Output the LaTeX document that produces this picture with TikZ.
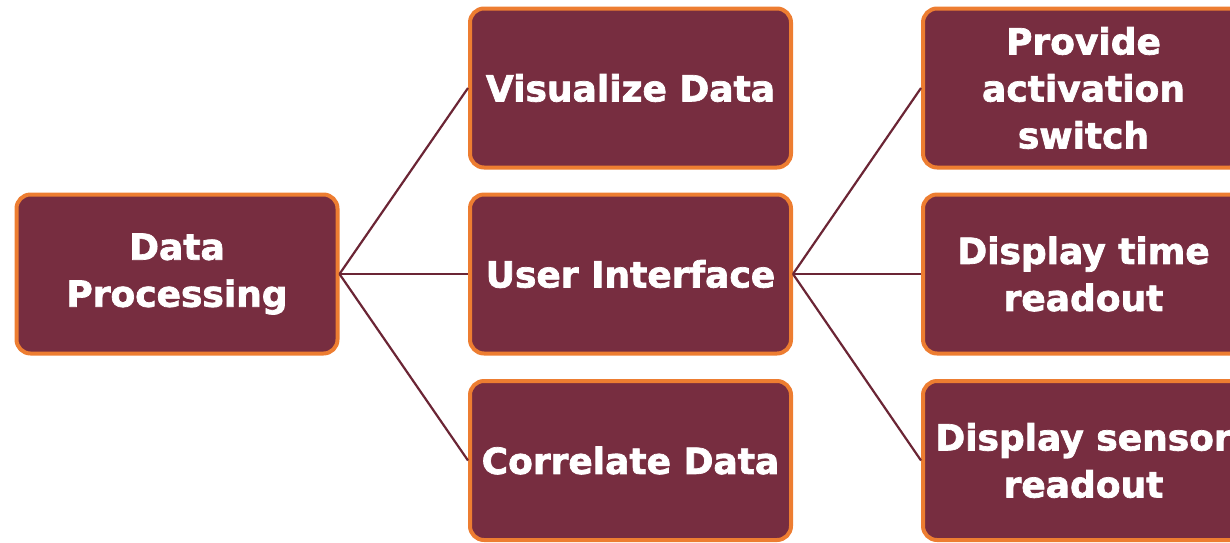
\documentclass[tikz,border=0pt]{standalone}
\usepackage{fontspec}
\setmainfont{DejaVu Sans}
\newfontfamily\labelfont{DejaVu Sans Bold}[FakeBold=2]
\definecolor{boxfill}{HTML}{772D40}
\definecolor{boxedge}{HTML}{ED7D31}
\definecolor{linkcol}{HTML}{6B2535}
\begin{document}
\begin{tikzpicture}[x=1pt,y=-1pt,
  item/.style={draw=boxedge, fill=boxfill, line width=4pt, rounded corners=14pt,
    minimum width=321pt, minimum height=159pt, inner sep=0pt,
    text=white, align=center, font=\labelfont\fontsize{36}{47}\selectfont},
  link/.style={draw=linkcol, line width=2.2pt}]
  \useasboundingbox (0,0) rectangle (1230,542);
  \clip (0,0) rectangle (1230,542);
  % root
  \node[item] (dp) at (177,274) {Data\\Processing};
  % second level
  \node[item] (vis) at (630.5,88) {Visualize Data};
  \node[item] (ui)  at (630.5,274) {User Interface};
  \node[item] (cor) at (630.5,460.5) {Correlate Data};
  % third level
  \node[item] (sw)  at (1083.5,88) {Provide\\activation\\switch};
  \node[item] (tim) at (1083.5,274) {Display time\\readout};
  \node[item] (sen) at (1083.5,460.5) {Display sensor\\readout};
  % connectors
  \draw[link] (dp.east) -- (vis.west);
  \draw[link] (dp.east) -- (ui.west);
  \draw[link] (dp.east) -- (cor.west);
  \draw[link] (ui.east) -- (sw.west);
  \draw[link] (ui.east) -- (tim.west);
  \draw[link] (ui.east) -- (sen.west);
\end{tikzpicture}
\end{document}
